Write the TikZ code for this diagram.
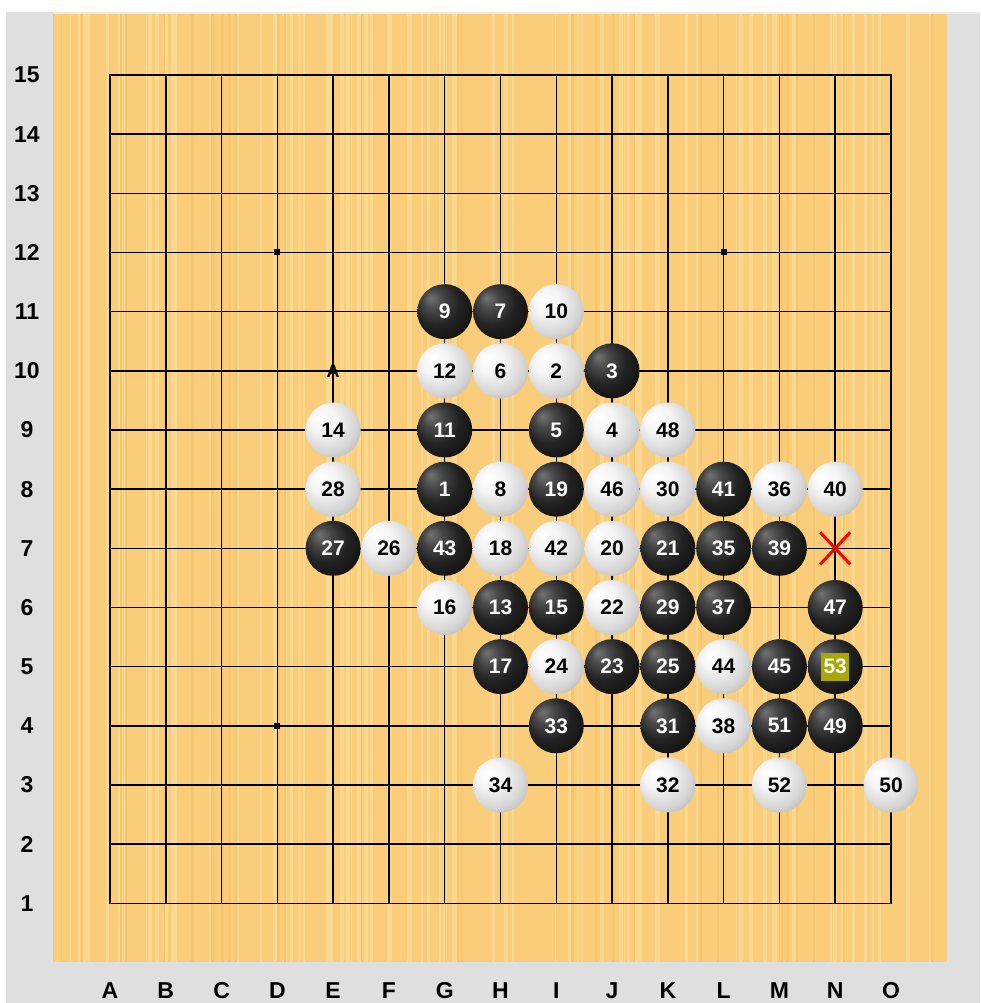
\documentclass[tikz,border=0pt]{standalone}
\usepackage{fontspec}
\setmainfont{Liberation Sans}
\usetikzlibrary{shapes.misc}
\definecolor{bggray}{RGB}{223,223,223}
\definecolor{woodbase}{RGB}{249,205,122}
\definecolor{woodlight}{RGB}{252,215,142}
\definecolor{wooddark}{RGB}{245,198,112}
\definecolor{lastmv}{RGB}{168,168,0}
\pgfdeclareradialshading{bstone}{\pgfpoint{-13bp}{13bp}}{color(0bp)=(black!55); color(9bp)=(black!72); color(20bp)=(black!86); color(34bp)=(black!94); color(50bp)=(black)}
\pgfdeclareradialshading{wstone}{\pgfpoint{-12bp}{12bp}}{color(0bp)=(white); color(12bp)=(black!4); color(26bp)=(black!16); color(40bp)=(black!36); color(50bp)=(black!50)}
\tikzset{
  stoneb/.style={circle, minimum size=55pt, inner sep=0pt, shading=bstone, text=white, font=\fontsize{21}{21}\selectfont\bfseries},
  stonew/.style={circle, minimum size=55pt, inner sep=0pt, shading=wstone, text=black, font=\fontsize{21}{21}\selectfont\bfseries},
  axislab/.style={font=\fontsize{23}{23}\selectfont\bfseries, text=black, inner sep=0pt},
  gridline/.style={line width=1.5pt, black},
  hoshi/.style={rectangle, fill=black, minimum size=6pt, inner sep=0pt},
}
\begin{document}
\begin{tikzpicture}
\useasboundingbox (0,0) rectangle (980pt,-1003pt);
% backgrounds
\fill[bggray] (0,0) rectangle (980pt,-1003pt);
\fill[white] (0,0) rectangle (980pt,-12pt);
\fill[white] (0,0) rectangle (6pt,-1003pt);
\fill[black!8] (53pt,-12pt) rectangle (980pt,-14pt);
\fill[woodbase] (53pt,-14pt) rectangle (947pt,-962pt);
\pgfmathsetseed{7}
\foreach \i in {1,...,90}{
  \pgfmathsetmacro\xx{53+rnd*890}
  \pgfmathsetmacro\xe{\xx+1+rnd*3.5}
  \fill[woodlight] (\xx pt,-14pt) rectangle (\xe pt,-962pt);
}
\foreach \i in {1,...,30}{
  \pgfmathsetmacro\xx{53+rnd*890}
  \pgfmathsetmacro\xe{\xx+1+rnd*2}
  \fill[wooddark] (\xx pt,-14pt) rectangle (\xe pt,-962pt);
}
\begin{scope}[shift={(110pt,-903.3pt)}, x=55.786pt, y=59.164pt]
  % grid
  \foreach \i in {0,...,14}{
    \draw[gridline] (\i,0) -- (\i,14);
    \draw[gridline] (0,\i) -- (14,\i);
  }
  \draw[gridline, line cap=rect] (0,0) rectangle (14,14);
  % star points
  \foreach \c/\r/\k in {3/11/1,11/11/2,3/3/3,11/3/4,7/7/5}
    \node[hoshi] (hoshi\k) at (\c,\r) {};
  % labels
  \foreach \r in {1,...,15}
    \node[axislab] (row\r) at ([xshift=-83pt]0,\r-1) {\r};
  \foreach \l [count=\c from 0] in {A,B,C,D,E,F,G,H,I,J,K,L,M,N,O}
    \node[axislab] (col\l) at ([yshift=-87pt]\c,0) {\l};
  % mark A
  \node[font=\fontsize{18}{18}\selectfont\bfseries, inner sep=0pt] (markA) at (4,9) {A};
  % black stones
  \foreach \n/\c/\r in {9/6/10,7/7/10,3/9/9,11/6/8,5/8/8,1/6/7,19/8/7,41/11/7,27/4/6,43/6/6,21/10/6,35/11/6,39/12/6,13/7/5,15/8/5,29/10/5,37/11/5,47/13/5,17/7/4,23/9/4,25/10/4,45/12/4,33/8/3,31/10/3,51/12/3,49/13/3}
    \node[stoneb] (s\n) at (\c,\r) {\n};
  \node[stoneb] (s53) at (13,4) {};
  \node[fill=lastmv, minimum size=28pt, inner sep=0pt, text=white, font=\fontsize{21}{21}\selectfont\bfseries] (m53) at (s53.center) {53};
  % white stones
  \foreach \n/\c/\r in {10/8/10,12/6/9,6/7/9,2/8/9,14/4/8,4/9/8,48/10/8,28/4/7,8/7/7,46/9/7,30/10/7,36/12/7,40/13/7,26/5/6,18/7/6,42/8/6,20/9/6,16/6/5,22/9/5,44/11/4,24/8/4,38/11/3,34/7/2,32/10/2,52/12/2,50/14/2}
    \node[stonew] (s\n) at (\c,\r) {\n};
  % red cross
  \node[cross out, draw=red, line width=3pt, minimum width=27pt, minimum height=29pt, inner sep=0pt] (xmark) at (13,6) {};
\end{scope}
\end{tikzpicture}
\end{document}
